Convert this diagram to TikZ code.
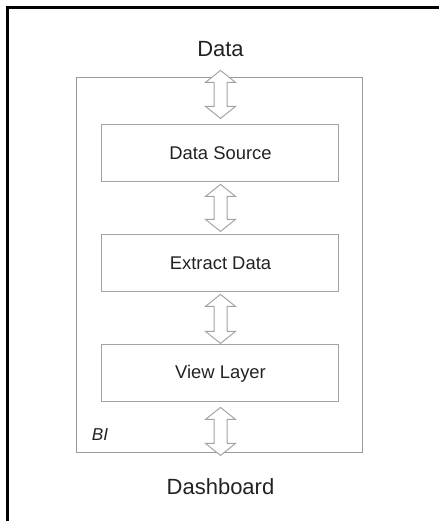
\documentclass[tikz,border=0pt]{standalone}
\usepackage{fontspec}
\setmainfont{Liberation Sans}
\usepackage{tikz}
\usetikzlibrary{matrix,calc}
\definecolor{linegray}{HTML}{A3A3A3}
\definecolor{framegray}{HTML}{9A9A9A}
\definecolor{inkgray}{HTML}{222222}
\tikzset{
	box/.style={draw=linegray,line width=0.5pt,minimum width=118.5pt,font=\fontsize{9.2}{11}\selectfont},
	updown/.style={draw=linegray,fill=white,line width=0.5pt,
		to path={-- ++(7.5pt,-6pt) -- ++(-4.25pt,0pt) -- ($(\tikztotarget)+(3.25pt,6pt)$) -- ++(4.25pt,0pt)
			-- (\tikztotarget) -- ++(-7.5pt,6pt) -- ++(4.25pt,0pt) -- ($(\tikztostart)+(-3.25pt,-6pt)$) -- ++(-4.25pt,0pt) -- cycle}}
}
\begin{document}
\begin{tikzpicture}
	\useasboundingbox (0,0) rectangle (219.5pt,-260.5pt);
	\draw[line width=1.5pt] (3.75pt,-260.5pt) -- (3.75pt,-3.75pt) -- (219.5pt,-3.75pt);
	\matrix (m) [matrix of nodes,row sep=26pt,anchor=north,inner sep=0pt,
		nodes={minimum height=28.5pt,inner sep=2pt,text=inkgray,font=\fontsize{11}{13}\selectfont}] at (110.25pt,-10pt)
	{
		Data \\[-2.5pt]
		|[box]| Data Source \\
		|[box]| Extract Data \\
		|[box]| View Layer \\[1.75pt]
		Dashboard \\};
	
	% the BI frame round the three layers
	\coordinate (bi-nw) at ([xshift=-12.5pt,yshift=23.5pt]m-2-1.north west);
	\coordinate (bi-se) at ([xshift=11.5pt,yshift=-25pt]m-4-1.south east);
	\draw[framegray,line width=0.75pt] (bi-nw) rectangle (bi-se);
	\node[anchor=base west,inner sep=0pt,text=inkgray,font=\fontsize{8.6}{10}\itshape] (bi)
		at ([xshift=7.5pt,yshift=6pt]bi-nw |- bi-se) {BI};
	
	\path
	([yshift=27pt]m-2-1.north) edge[updown] ([yshift=3pt]m-2-1.north)
	([yshift=-1pt]m-2-1.south) edge[updown] ([yshift=1.5pt]m-3-1.north)
	([yshift=-1pt]m-3-1.south) edge[updown] ([yshift=0.5pt]m-4-1.north)
	([yshift=-2.5pt]m-4-1.south) edge[updown] ([yshift=-26.5pt]m-4-1.south);
	
\end{tikzpicture}
\end{document}
